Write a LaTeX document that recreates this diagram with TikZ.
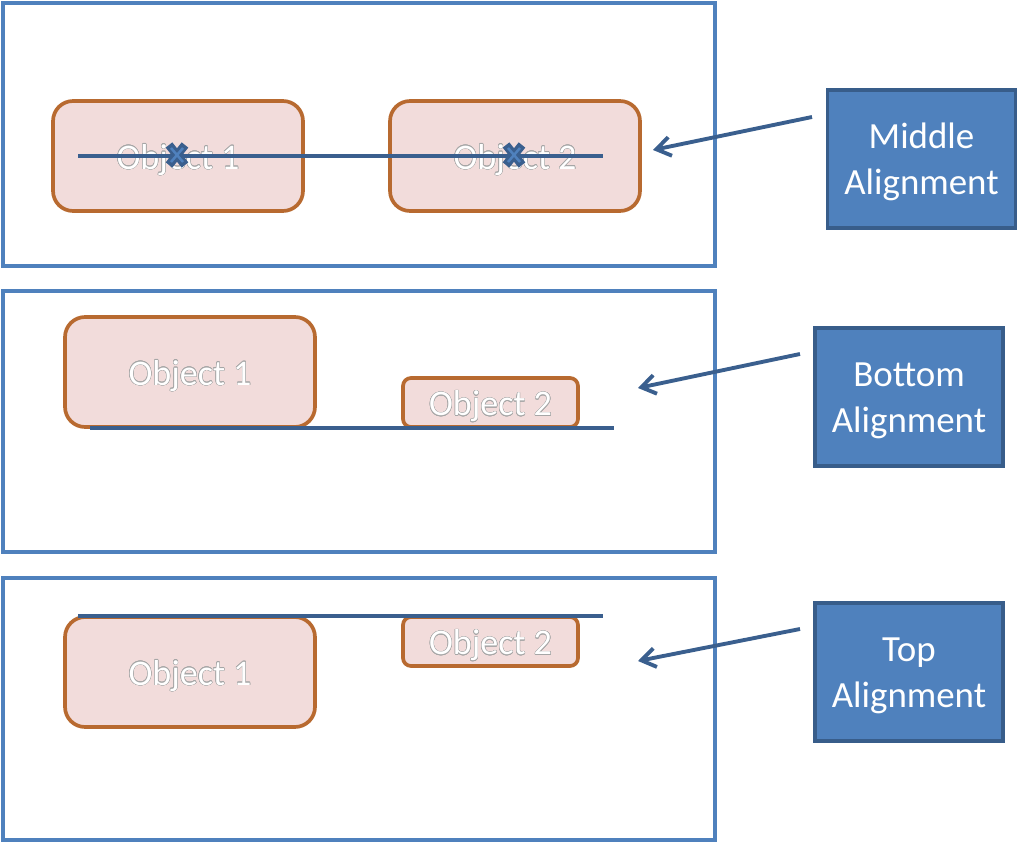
\documentclass[tikz,border=0pt]{standalone}
\usepackage{fontspec}
\setmainfont{Carlito}
\usepackage{contour}
\contourlength{0.25pt}
\usepackage{tikz}
\usetikzlibrary{arrows.meta}

\definecolor{panelblue}{HTML}{4F81BD}
\definecolor{darkblue}{HTML}{385D8A}
\definecolor{guideblue}{HTML}{3A5F8E}
\definecolor{objfill}{HTML}{F2DCDB}
\definecolor{objborder}{HTML}{B86A30}

\tikzset{
  panel/.style={draw=panelblue,line width=2.1pt},
  object/.style={draw=objborder,fill=objfill,line width=2.1pt,rounded corners=0.4cm,
    minimum width=5cm,minimum height=2.2cm,text=white,font=\fontsize{20.5}{24}\selectfont},
  smallobj/.style={object,rounded corners=0.16cm,minimum width=3.5cm,minimum height=0.98cm},
  alignbox/.style={draw=darkblue,fill=panelblue,line width=2.1pt,text=white,align=center,
    minimum width=3.76cm,minimum height=2.76cm,font=\fontsize{21}{26}\selectfont},
  guide/.style={draw=guideblue,line width=2.2pt},
  pointer/.style={draw=guideblue,line width=2.2pt,-{Straight Barb[length=0.28cm,width=0.38cm]}},
  cross/.style={draw=guideblue,line width=0.17cm},
  crossin/.style={draw=panelblue,line width=0.05cm}
}

\newcommand{\objtext}[1]{\raisebox{-0.08cm}[\height][\depth]{\contour{gray!70}{#1}}}

\begin{document}
\begin{tikzpicture}[x=0.02cm,y=-0.02cm]
\useasboundingbox (0,0) rectangle (1024,844);

% panels
\draw[panel] (3,3) rectangle (715,266);
\draw[panel] (3,291) rectangle (715,552);
\draw[panel] (3,578) rectangle (715,840);

% middle alignment
\node[object] (m1) at (178,156) {\objtext{Object 1}};
\node[object] (m2) at (515,156) {\objtext{Object 2}};
\coordinate (ms) at (78,156);
\coordinate (me) at (603,156);
\draw[guide] (ms) -- (me);
\foreach \cx in {177,514} {
  \draw[cross] (\cx,155) +(-8,-10) -- +(8,10) +(-8,10) -- +(8,-10);
  \draw[crossin] (\cx,155) +(-6,-7) -- +(6,7) +(-6,7) -- +(6,-7);
}
\node[alignbox] (mid) at (921.5,159) {\rule{0pt}{0.62cm}Middle\\Alignment};
\coordinate (mfrom) at (812,117);
\coordinate (mto) at (653,150);
\draw[pointer] (mfrom) -- (mto);

% bottom alignment
\node[object] (b1) at (190,372) {\objtext{Object 1}};
\node[smallobj] (b2) at (490.5,402.5) {\objtext{Object 2}};
\coordinate (bs) at (90,428);
\coordinate (be) at (614,428);
\draw[guide] (bs) -- (be);
\node[alignbox] (bot) at (909,397) {\rule{0pt}{0.62cm}Bottom\\Alignment};
\coordinate (bfrom) at (800,354);
\coordinate (bto) at (638,388);
\draw[pointer] (bfrom) -- (bto);

% top alignment
\node[object] (t1) at (190,672) {\objtext{Object 1}};
\node[smallobj] (t2) at (490.5,641.5) {\objtext{Object 2}};
\coordinate (ts) at (78,616);
\coordinate (te) at (603,616);
\draw[guide] (ts) -- (te);
\node[alignbox] (top) at (909,672) {\rule{0pt}{0.62cm}Top\\Alignment};
\coordinate (tfrom) at (800,629);
\coordinate (tto) at (638,661);
\draw[pointer] (tfrom) -- (tto);

\end{tikzpicture}
\end{document}
